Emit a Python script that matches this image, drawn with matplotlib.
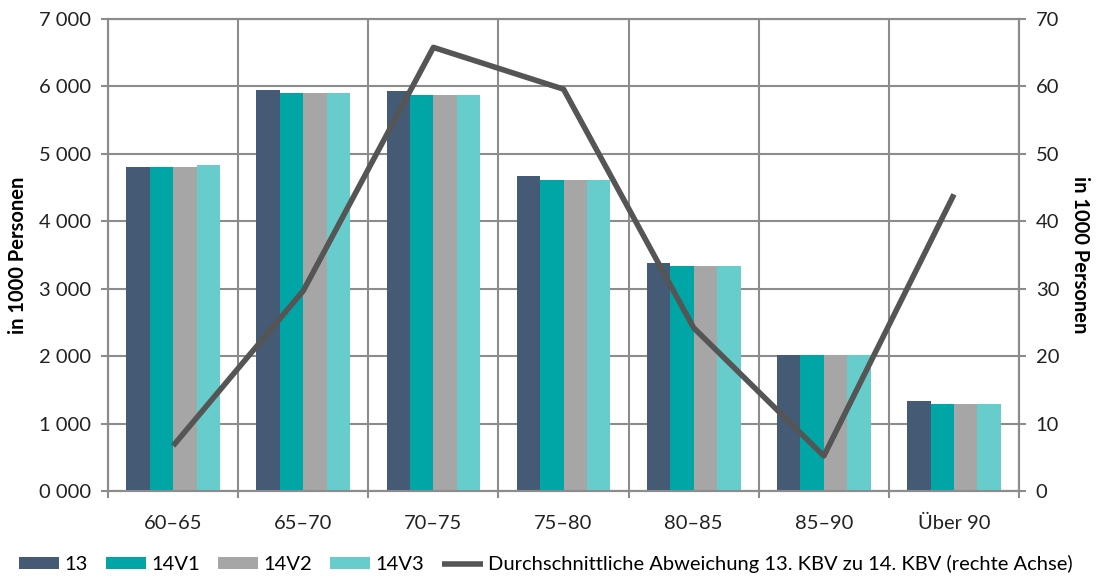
import matplotlib.pyplot as plt
import numpy as np
from matplotlib.ticker import FuncFormatter

categories = ["60–65", "65–70", "70–75", "75–80", "80–85", "85–90", "Über 90"]
series_names = ["13", "14V1", "14V2", "14V3"]
v13 = [4810, 5950, 5930, 4670, 3380, 2010, 1340]
v14v1 = [4810, 5910, 5870, 4620, 3340, 2010, 1290]
v14v2 = [4810, 5910, 5870, 4620, 3340, 2010, 1290]
v14v3 = [4830, 5910, 5870, 4620, 3340, 2010, 1290]
deviation = [6.7, 29.7, 65.8, 59.6, 24.2, 5.2, 44.0]
line_name = "Durchschnittliche Abweichung 13. KBV zu 14. KBV (rechte Achse)"

colors = ["#455a74", "#00a6a6", "#a6a6a6", "#66cccc"]
grid_c = "#8c8c8c"
fs = 14.5

plt.rcParams['font.family'] = ['Lato', 'DejaVu Sans']

fig = plt.figure(figsize=(10.98, 5.78), dpi=100)
ax = fig.add_axes([0.0984, 0.1505, 0.8297, 0.8165])
ax2 = ax.twinx()

x = np.arange(len(categories))
w = 0.18
series = [v13, v14v1, v14v2, v14v3]
bars = []
for i, vals in enumerate(series):
    b = ax.bar(x + (i - 1.5) * w, vals, w, color=colors[i], label=series_names[i], zorder=3)
    bars.append(b)

ln, = ax2.plot(x, deviation, color="#555555", lw=4, solid_capstyle='butt', label=line_name, zorder=4)

ax.set_xlim(-0.5, len(categories) - 0.5)
ax.set_ylim(0, 7000)
ax2.set_ylim(0, 70)
ax.set_yticks(np.arange(0, 7001, 1000))
ax2.set_yticks(np.arange(0, 71, 10))
ax.yaxis.set_major_formatter(FuncFormatter(lambda v, p: "%d %03d" % (v // 1000, v % 1000)))

ax.set_xticks(x)
ax.set_xticklabels(categories)
ax.set_xticks(np.arange(-0.5, len(categories), 1), minor=True)
ax.tick_params(axis='x', which='major', length=0, pad=17, labelsize=fs, colors="#222222")
ax.tick_params(axis='x', which='minor', length=5, width=1.5, color=grid_c)
ax.tick_params(axis='y', length=5, width=1.5, pad=7, color=grid_c, labelsize=fs, labelcolor="#222222")
ax2.tick_params(axis='y', length=5, width=1.5, pad=7, color=grid_c, labelsize=fs, labelcolor="#222222")

ax.grid(True, which='major', axis='y', color=grid_c, lw=1.5, zorder=0)
ax.grid(True, which='minor', axis='x', color=grid_c, lw=1.5, zorder=0)
ax.set_axisbelow(True)
for a in (ax, ax2):
    for s in a.spines.values():
        s.set_color(grid_c)
        s.set_linewidth(1.5)

ax.set_ylabel("in 1000 Personen", fontsize=fs, fontweight='bold', labelpad=8)
ax2.set_ylabel("in 1000 Personen", fontsize=fs, fontweight='bold', rotation=270, labelpad=22)

ax.set_zorder(ax2.get_zorder() - 1)
ax.patch.set_visible(True)
ax2.patch.set_visible(False)

handles = bars + [ln]
labels = series_names + [line_name]
fig.legend(handles, labels, loc='center', bbox_to_anchor=(0.497, 0.024), ncol=5, frameon=False,
           fontsize=fs, handlelength=2.0, handleheight=0.55, columnspacing=0.9, handletextpad=0.25)

fig.savefig("out.png", dpi=100)
